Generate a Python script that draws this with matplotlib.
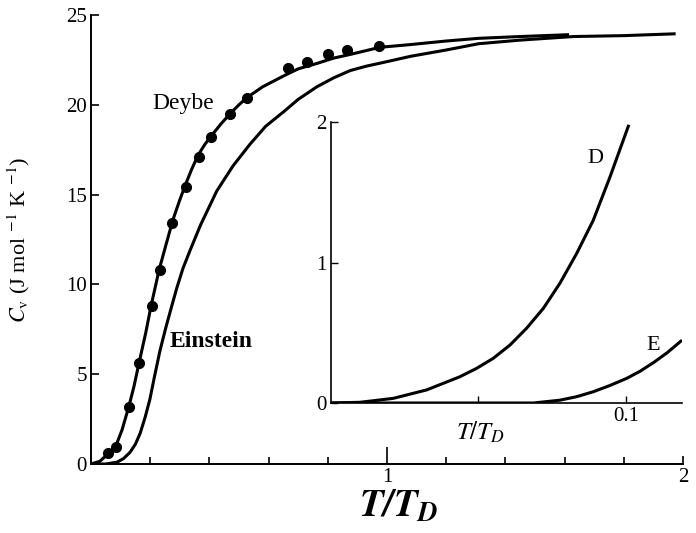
import matplotlib
matplotlib.use("Agg")
import matplotlib.pyplot as plt
from matplotlib.ticker import MultipleLocator

# main panel: Debye curve, Einstein curve, measured points
debye_x = [0, 0.03, 0.057, 0.084, 0.105, 0.128, 0.145, 0.162, 0.185, 0.203, 0.23, 0.255, 0.277,
           0.30, 0.318, 0.34, 0.362, 0.385, 0.408, 0.44, 0.47, 0.50, 0.527, 0.58, 0.65, 0.70,
           0.763, 0.82, 0.875, 0.976, 1.078, 1.2, 1.31, 1.45, 1.61]
debye_y = [0, 0.15, 0.55, 1.0, 1.9, 3.2, 4.3, 5.6, 7.3, 8.8, 10.8, 12.3, 13.6,
           14.7, 15.5, 16.4, 17.2, 17.8, 18.3, 18.95, 19.5, 20.0, 20.4, 21.0, 21.6, 22.0,
           22.3, 22.6, 22.8, 23.2, 23.35, 23.55, 23.7, 23.8, 23.9]

einstein_x = [0, 0.05, 0.088, 0.11, 0.132, 0.15, 0.166, 0.183, 0.199, 0.215, 0.233, 0.253,
              0.273, 0.29, 0.311, 0.335, 0.37, 0.425, 0.48, 0.537, 0.59, 0.65, 0.70, 0.763,
              0.82, 0.875, 0.93, 0.986, 1.08, 1.2, 1.31, 1.45, 1.63, 1.8, 1.97]
einstein_y = [0, 0.0, 0.1, 0.3, 0.65, 1.1, 1.7, 2.6, 3.6, 4.9, 6.3, 7.6,
              8.8, 9.8, 10.9, 11.9, 13.3, 15.2, 16.6, 17.8, 18.8, 19.6, 20.3, 21.0,
              21.5, 21.9, 22.15, 22.35, 22.7, 23.05, 23.4, 23.6, 23.8, 23.85, 23.95]

meas_x = [0.057, 0.084, 0.129, 0.163, 0.205, 0.233, 0.274, 0.321, 0.364, 0.405, 0.470,
          0.527, 0.666, 0.730, 0.801, 0.865, 0.973]
meas_y = [0.6, 0.95, 3.2, 5.6, 8.8, 10.8, 13.4, 15.4, 17.1, 18.2, 19.5,
          20.4, 22.05, 22.4, 22.8, 23.05, 23.3]

# inset: low temperature region
ins_d_x = [0, 0.0098, 0.0211, 0.0324, 0.0437, 0.0494, 0.055, 0.0607, 0.0663, 0.072,
           0.0776, 0.0833, 0.0889, 0.0946, 0.1008]
ins_d_y = [0, 0.005, 0.033, 0.093, 0.187, 0.247, 0.318, 0.413, 0.532, 0.674,
           0.852, 1.065, 1.30, 1.61, 1.97]
ins_e_x = [0, 0.0686, 0.0776, 0.0833, 0.0889, 0.0946, 0.1002, 0.1047, 0.1095, 0.1141, 0.1186]
ins_e_y = [0, 0.0, 0.02, 0.045, 0.08, 0.125, 0.175, 0.225, 0.29, 0.36, 0.44]

plt.rcParams['font.family'] = ['Liberation Serif', 'DejaVu Serif']
plt.rcParams['mathtext.fontset'] = 'stix'

fig = plt.figure(figsize=(6.96, 5.33), dpi=100)
ax = fig.add_axes([0.1307, 0.1295, 0.8506, 0.8424])

ax.plot(debye_x, debye_y, color='black', lw=2.2)
ax.plot(einstein_x, einstein_y, color='black', lw=2.2)
ax.plot(meas_x, meas_y, 'o', color='black', ms=7)

ax.set_xlim(0, 2)
ax.set_ylim(0, 25)
for s in ['top', 'right']:
    ax.spines[s].set_visible(False)
for s in ['left', 'bottom']:
    ax.spines[s].set_linewidth(1.4)

ax.set_xticks([1, 2])
ax.set_xticklabels(['1', '2'])
ax.xaxis.set_minor_locator(MultipleLocator(0.2))
ax.set_yticks([0, 5, 10, 15, 20, 25])
ax.tick_params(axis='both', which='major', direction='in', length=6, width=1.2,
               labelsize=15, pad=3)
ax.tick_params(axis='x', which='minor', direction='in', length=5, width=1.2)
ax.xaxis.get_major_ticks()[0].tick1line.set_markersize(12)

ax.set_xlabel(r'$\mathbfit{T/T_D}$', fontsize=28)
ax.xaxis.set_label_coords(0.52, -0.055)
ax.set_ylabel(r'$C_{\rm v}$ (J mol $^{-1}$ K $^{-1}$)', fontsize=16)
ax.yaxis.set_label_coords(-0.1, 0.5)

ax.text(0.311, 20.05, 'Deybe', fontsize=17, ha='center', va='center')
ax.text(0.405, 6.8, 'Einstein', fontsize=17, fontweight='bold', ha='center', va='center')

# inset
axi = fig.add_axes([0.4756, 0.2439, 0.5043, 0.5272])
axi.plot(ins_d_x, ins_d_y, color='black', lw=2.2)
axi.plot(ins_e_x, ins_e_y, color='black', lw=2.2)
axi.set_xlim(0, 0.119)
axi.set_ylim(0, 2)
axi.patch.set_alpha(0)
for s in ['top', 'right']:
    axi.spines[s].set_visible(False)
for s in ['left', 'bottom']:
    axi.spines[s].set_linewidth(1.2)
axi.set_xticks([0.05, 0.1])
axi.set_xticklabels(['', '0.1'])
axi.set_yticks([0, 1, 2])
axi.set_yticklabels(['0', '1', '2'])
axi.tick_params(axis='both', direction='in', length=5, width=1.0, labelsize=15, pad=3)
axi.set_xlabel(r'$T/T_D$', fontsize=18)
axi.xaxis.set_label_coords(0.425, -0.06)

axi.text(0.0895, 1.74, 'D', fontsize=16, ha='center', va='center')
axi.text(0.1092, 0.41, 'E', fontsize=16, ha='center', va='center')

fig.savefig('out.png', dpi=100)
